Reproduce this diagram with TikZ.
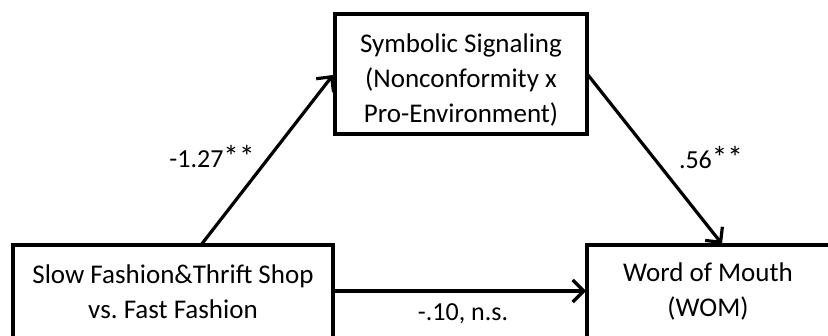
\documentclass[tikz,border=0pt]{standalone}
\usepackage{fontspec}
\setmainfont{Carlito}
\usetikzlibrary{arrows.meta}
\newcommand{\starsx}{\scalebox{1.2}{**}}
\begin{document}
\frenchspacing
\begin{tikzpicture}[x=1pt,y=-1pt,
  boxnode/.style={draw=black,line width=3.6pt,rectangle,inner sep=0pt},
  txt/.style={align=center,font=\fontsize{27}{35}\selectfont,inner sep=0pt},
  lbl/.style={font=\fontsize{26}{32}\selectfont,inner sep=0pt},
  conn/.style={line width=3.2pt,-{Straight Barb[length=11pt,width=22pt,line width=3.2pt]}}]
\useasboundingbox (0,0) rectangle (828,336);
\clip (0,0) rectangle (828,336);
\fill[white] (0,0) rectangle (828,336);
% boxes
\node[boxnode,minimum width=252pt,minimum height=120pt] (top) at (461,74) {};
\node[boxnode,minimum width=320pt,minimum height=110pt] (left) at (173,300) {};
\node[boxnode,minimum width=250pt,minimum height=110pt] (right) at (712,300) {};
% texts
\node[txt] (toptxt) at (461,80) {Symbolic Signaling\\(Nonconformity x\\Pro-Environment)};
\node[txt] (lefttxt) at (173,292) {Slow Fashion\&Thrift Shop\\vs. Fast Fashion};
\node[txt] (righttxt) at (708,292) {Word of Mouth\\(WOM)};
% connector end points
\coordinate (a1s) at (201,245);
\coordinate (a1e) at (333,75);
\coordinate (a2s) at (588,75);
\coordinate (a2e) at (722,244);
\coordinate (a3s) at (333,291);
\coordinate (a3e) at (586,291);
\draw[conn] (a1s) -- (a1e);
\draw[conn] (a2s) -- (a2e);
\draw[conn] (a3s) -- (a3e);
% labels
\node[lbl] (l1) at (212,157) {-1.27\starsx};
\node[lbl] (l2) at (711,158) {.56\starsx};
\node[lbl] (l3) at (463,314) {-.10, n.s.};
\end{tikzpicture}
\end{document}
